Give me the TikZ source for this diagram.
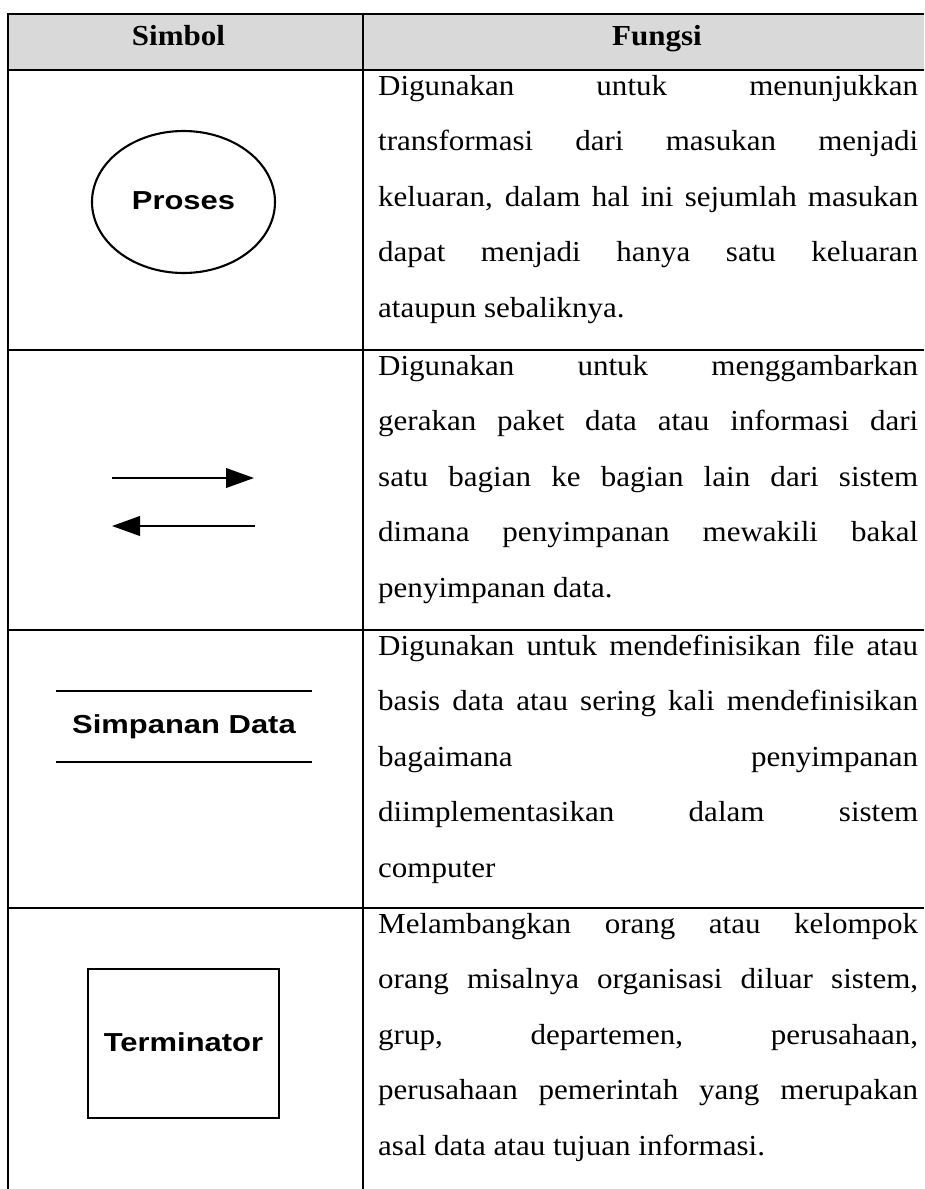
\documentclass[tikz,border=0pt]{standalone}
\usepackage{fontspec}
\setmainfont{Liberation Serif}[FakeStretch=1.07]
\newfontfamily\symfont{Liberation Sans}[FakeStretch=1.19]
\usetikzlibrary{arrows.meta,shapes.geometric}
\definecolor{headgray}{RGB}{217,217,217}
% one justified line of the description column
\newcommand\jline[1]{\makebox[540pt][s]{#1}}
\begin{document}
\begin{tikzpicture}[x=1pt,y=-1pt,
  grid/.style={line width=2.2pt},
  body/.style={inner sep=0pt, anchor=base west, font=\fontsize{29}{34}\selectfont},
  head/.style={inner sep=0pt, anchor=base, font=\fontsize{29}{34}\selectfont\bfseries},
  symtext/.style={inner sep=0pt, font=\symfont\fontsize{26}{30}\selectfont\bfseries},
  symline/.style={line width=2.1pt},
  flow/.style={line width=2.4pt, -{Triangle[length=28pt,width=19.5pt]}},
]
\useasboundingbox (0,0) rectangle (924,1189);

% header band
\fill[headgray] (8,14) rectangle (924,70);
\node[head] (hsym) at (178.5,45) {Simbol};
\node[head] (hfun) at (657,45) {Fungsi};

% table rules
\draw[grid] (8,14) -- (924,14);
\draw[grid] (8,70) -- (924,70);
\draw[grid] (8,350) -- (924,350);
\draw[grid] (8,630) -- (924,630);
\draw[grid] (8,908) -- (924,908);
\draw[grid] (8,12.9) -- (8,1189);
\draw[grid] (363,12.9) -- (363,1189);

% row 1: process
\node[draw, ellipse, symline, minimum width=183pt, minimum height=142pt, inner sep=0pt] (proc) at (183.5,202) {};
\node[symtext] (proct) at (183.5,201) {Proses};
\node[body] (r1a) at (378,95)    {\jline{Digunakan untuk menunjukkan}};
\node[body] (r1b) at (378,150.6) {\jline{transformasi dari masukan menjadi}};
\node[body] (r1c) at (378,206.2) {\jline{keluaran, dalam hal ini sejumlah masukan}};
\node[body] (r1d) at (378,261.8) {\jline{dapat menjadi hanya satu keluaran}};
\node[body] (r1e) at (378,317.4) {ataupun sebaliknya.};

% row 2: data flow
\coordinate (f1s) at (112,478);
\coordinate (f1e) at (254,478);
\coordinate (f2s) at (255,526);
\coordinate (f2e) at (112,526);
\draw[flow] (f1s) -- (f1e);
\draw[flow] (f2s) -- (f2e);
\node[body] (r2a) at (378,375)   {\jline{Digunakan untuk menggambarkan}};
\node[body] (r2b) at (378,430.6) {\jline{gerakan paket data atau informasi dari}};
\node[body] (r2c) at (378,486.2) {\jline{satu bagian ke bagian lain dari sistem}};
\node[body] (r2d) at (378,541.8) {\jline{dimana penyimpanan mewakili bakal}};
\node[body] (r2e) at (378,597.4) {penyimpanan data.};

% row 3: data store
\coordinate (s1a) at (56,691);
\coordinate (s1b) at (312,691);
\coordinate (s2a) at (56,762);
\coordinate (s2b) at (312,762);
\draw[symline] (s1a) -- (s1b);
\draw[symline] (s2a) -- (s2b);
\node[symtext] (store) at (184,727) {Simpanan Data};
\node[body] (r3a) at (378,655)   {\jline{Digunakan untuk mendefinisikan file atau}};
\node[body] (r3b) at (378,710.6) {\jline{basis data atau sering kali mendefinisikan}};
\node[body] (r3c) at (378,766.2) {\jline{bagaimana penyimpanan}};
\node[body] (r3d) at (378,821.8) {\jline{diimplementasikan dalam sistem}};
\node[body] (r3e) at (378,877.4) {computer};

% row 4: terminator
\node[draw, symline, minimum width=191pt, minimum height=149pt, inner sep=0pt] (term) at (183.5,1043.5) {};
\node[symtext] (termt) at (183.5,1042) {Terminator};
\node[body] (r4a) at (378,933)    {\jline{Melambangkan orang atau kelompok}};
\node[body] (r4b) at (378,988.6)  {\jline{orang misalnya organisasi diluar sistem,}};
\node[body] (r4c) at (378,1044.2) {\jline{grup, departemen, perusahaan,}};
\node[body] (r4d) at (378,1099.8) {\jline{perusahaan pemerintah yang merupakan}};
\node[body] (r4e) at (378,1155.4) {asal data atau tujuan informasi.};
\end{tikzpicture}
\end{document}
